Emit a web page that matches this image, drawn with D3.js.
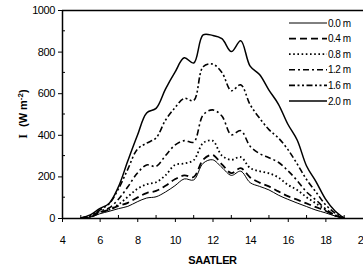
<!DOCTYPE html>
<html>
<head>
<meta charset="utf-8">
<script src="https://cdn.jsdelivr.net/npm/d3@7"></script>
<style>
  body { margin: 0; background: #fff; }
  svg { display: block; font-family: "Liberation Sans", Arial, sans-serif; }
</style>
</head>
<body>
<script>
// hours of the day (common grid for all depths)
const hours = [5, 5.5, 6, 6.5, 7, 7.5, 8, 8.5, 9, 9.5, 10, 10.5, 11, 11.5, 12,
  12.5, 13, 13.5, 14, 14.5, 15, 15.5, 16, 16.5, 17, 17.5, 18, 18.5, 19];

// irradiance I (W m-2)
const d20 = [0, 15, 45, 70, 150, 275, 395, 505, 527, 620, 700, 770, 745, 880, 878,
  862, 800, 852, 730, 690, 615, 548, 452, 375, 250, 175, 92, 35, 0];
const d16 = [0, 10, 38, 68, 140, 235, 330, 360, 385, 470, 530, 575, 565, 727, 740,
  700, 612, 640, 545, 480, 425, 385, 330, 260, 185, 125, 65, 25, 0];
const d12 = [0, 8, 32, 48, 90, 150, 215, 255, 248, 300, 350, 372, 365, 495, 520,
  490, 400, 420, 345, 310, 290, 268, 228, 180, 125, 87, 45, 15, 0];
const d08 = [0, 6, 28, 40, 65, 102, 140, 162, 172, 205, 255, 262, 278, 360, 372,
  300, 280, 293, 240, 225, 215, 195, 160, 135, 100, 70, 40, 12, 0];
const d04 = [0, 5, 25, 40, 58, 73, 98, 120, 130, 155, 186, 205, 197, 280, 303,
  258, 216, 240, 195, 170, 152, 128, 105, 88, 70, 52, 35, 12, 0];
const d00 = [0, 4, 20, 32, 45, 56, 78, 96, 102, 125, 155, 188, 183, 263, 280,
  243, 205, 225, 170, 152, 135, 110, 90, 72, 55, 38, 25, 10, 0];

const depthLabels = ["0.0 m", "0.4 m", "0.8 m", "1.2 m", "1.6 m", "2.0 m"];
const depthValues = [d00, d04, d08, d12, d16, d20];
const xTicks = [4, 6, 8, 10, 12, 14, 16, 18, 20];
const yTicks = [0, 200, 400, 600, 800, 1000];

const styles = [
  { dash: null, w: 1 },
  { dash: "7,4", w: 1.8 },
  { dash: "1.6,2.6", w: 1.8 },
  { dash: "6,3,2,3", w: 1.6 },
  { dash: "6,2.5,2,2.5,2,2.5", w: 1.6 },
  { dash: null, w: 1.5 }
];

const w = 363, h = 270;
const padLeft = 62, padRight = 363, padTop = 10, padBottom = 218;

const x = d3.scaleLinear().domain([4, 20]).range([padLeft, padRight]);
const y = d3.scaleLinear().domain([0, 1000]).range([padBottom, padTop]);

const svg = d3.select("body").append("svg").attr("width", w).attr("height", h);

// top frame line
svg.append("line")
  .attr("x1", padLeft).attr("x2", padRight)
  .attr("y1", padTop + 0.5).attr("y2", padTop + 0.5)
  .attr("stroke", "#000").attr("stroke-width", 1.5);

// minor ticks (inside)
const gMinor = svg.append("g").attr("stroke", "#000").attr("stroke-width", 1);
d3.range(5, 20, 2).forEach(function (t) {
  gMinor.append("line").attr("x1", x(t)).attr("x2", x(t))
    .attr("y1", padBottom).attr("y2", padBottom - 3);
});
d3.range(100, 1000, 200).forEach(function (t) {
  gMinor.append("line").attr("x1", padLeft).attr("x2", padLeft + 3)
    .attr("y1", y(t)).attr("y2", y(t));
});

const xAxis = d3.axisBottom(x).tickValues(xTicks).tickFormat(d3.format("d"))
  .tickSize(4).tickSizeOuter(0).tickPadding(14);
const yAxis = d3.axisLeft(y).tickValues(yTicks).tickFormat(d3.format("d"))
  .tickSize(4).tickSizeOuter(0).tickPadding(3);

const gx = svg.append("g")
  .attr("transform", "translate(0," + padBottom + ")")
  .call(xAxis);
const gy = svg.append("g")
  .attr("transform", "translate(" + padLeft + ",0)")
  .call(yAxis);

[gx, gy].forEach(function (g) {
  g.select(".domain").attr("stroke-width", 1.5);
  g.selectAll("text").attr("font-size", 11).attr("fill", "#000")
    .attr("font-family", "Liberation Sans, Arial, sans-serif")
    .attr("letter-spacing", -0.4);
});

// lines
const line = d3.line()
  .x(function (d, i) { return x(hours[i]); })
  .y(function (d) { return y(d); })
  .curve(d3.curveCatmullRom.alpha(0.5));

depthValues.forEach(function (vals, i) {
  svg.append("path")
    .attr("d", line(vals))
    .attr("fill", "none")
    .attr("stroke", "#000")
    .attr("stroke-width", styles[i].w)
    .attr("stroke-dasharray", styles[i].dash);
});

// legend
const leg = svg.append("g");
depthLabels.forEach(function (lab, i) {
  const ly = 23 + i * 15.6;
  leg.append("line")
    .attr("x1", 289).attr("x2", 327)
    .attr("y1", ly).attr("y2", ly)
    .attr("stroke", "#000")
    .attr("stroke-width", styles[i].w)
    .attr("stroke-dasharray", styles[i].dash);
  leg.append("text")
    .attr("x", 328).attr("y", ly + 3.5)
    .attr("font-size", 10).attr("letter-spacing", -0.5)
    .text(lab);
});

// axis titles
svg.append("text")
  .attr("x", x(12)).attr("y", 264)
  .attr("text-anchor", "middle")
  .attr("font-size", 11).attr("font-weight", "bold")
  .attr("letter-spacing", -0.4)
  .text("SAATLER");

const yt = svg.append("text")
  .attr("transform", "translate(27,114) rotate(-90)")
  .attr("text-anchor", "middle")
  .attr("font-size", 11).attr("font-weight", "bold");
yt.append("tspan").attr("font-family", "Liberation Serif, Times New Roman, serif")
  .attr("font-size", 12).text("I");
yt.append("tspan").attr("dx", 7).text("(W m");
yt.append("tspan").attr("dy", -4).attr("font-size", 8).text("-2");
yt.append("tspan").attr("dy", 4).text(")");
</script>
</body>
</html>
